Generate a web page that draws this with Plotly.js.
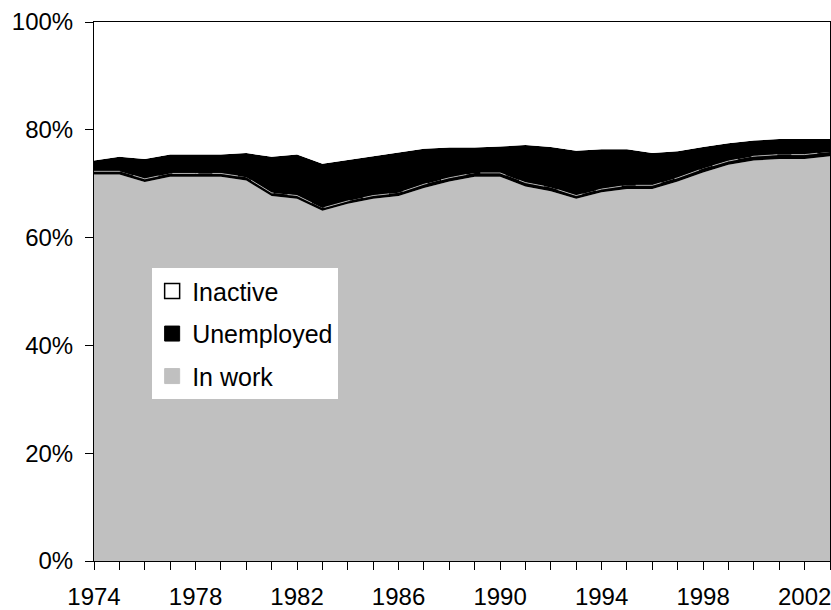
<!DOCTYPE html>
<html>
<head>
<meta charset="utf-8">
<script src="https://cdn.plot.ly/plotly-3.0.1.min.js"></script>
<style>
  html, body { margin: 0; padding: 0; background: #ffffff; }
  #chart { width: 831px; height: 610px; }
</style>
</head>
<body>
<div id="chart"></div>
<script>
// Years (x categories)
const years = [1974,1975,1976,1977,1978,1979,1980,1981,1982,1983,1984,1985,1986,1987,1988,
               1989,1990,1991,1992,1993,1994,1995,1996,1997,1998,1999,2000,2001,2002,2003];

// Share in work (%)
const inWork = [71.7,71.7,70.3,71.3,71.3,71.3,70.6,67.7,67.2,65.0,66.3,67.2,67.7,69.2,70.4,
                71.3,71.3,69.5,68.6,67.2,68.4,69.0,69.0,70.4,72.1,73.5,74.3,74.6,74.6,75.1];

// Thin band between "in work" and "unemployed" (edged by the white dashed line) (%)
const band = [0.6,0.6,0.6,0.6,0.6,0.6,0.6,0.6,0.6,0.5,0.5,0.6,0.6,0.7,0.7,
              0.7,0.7,0.7,0.7,0.6,0.6,0.7,0.7,0.7,0.7,0.7,0.8,0.8,0.8,0.8];

// Share unemployed (%)
const unemployed = [2.0,2.7,3.7,3.5,3.5,3.5,4.5,6.7,7.6,8.2,7.6,7.3,7.5,6.6,5.6,
                    4.7,4.9,7.0,7.5,8.3,7.4,6.7,6.0,4.9,4.0,3.3,2.9,2.9,2.9,2.4];

// Share inactive (%)
const inactive = [25.7,25.0,25.4,24.6,24.6,24.6,24.3,25.0,24.6,26.3,25.6,24.9,24.2,23.5,23.3,
                  23.3,23.1,22.8,23.2,23.9,23.6,23.6,24.3,24.0,23.2,22.5,22.0,21.7,21.7,21.7];

// Legend labels
const legendNames = ['Inactive', 'Unemployed', 'In work'];

const GRAY = '#c0c0c0';

const traces = [
  { x: years, y: inWork, type: 'scatter', mode: 'lines', stackgroup: 'one',
    fillcolor: GRAY, line: { width: 0, color: GRAY }, showlegend: false, hoverinfo: 'skip' },
  { x: years, y: band, type: 'scatter', mode: 'lines', stackgroup: 'one',
    fillcolor: '#000000', line: { width: 0.7, color: '#dddddd', dash: '26px,14px' },
    showlegend: false, hoverinfo: 'skip' },
  { x: years, y: unemployed, type: 'scatter', mode: 'lines', stackgroup: 'one',
    fillcolor: '#000000', line: { width: 0, color: '#000000' }, showlegend: false, hoverinfo: 'skip' },
  { x: years, y: inactive, type: 'scatter', mode: 'lines', stackgroup: 'one',
    fillcolor: '#ffffff', line: { width: 0, color: '#ffffff' }, showlegend: false, hoverinfo: 'skip' },
  // legend-only entries
  { x: [null], y: [null], type: 'scatter', mode: 'markers', name: legendNames[0], legendgroup: 'a',
    marker: { symbol: 'square', size: 15, color: '#ffffff', line: { color: '#000000', width: 1.5 } } },
  { x: [null], y: [null], type: 'scatter', mode: 'markers', name: legendNames[1], legendgroup: 'b',
    marker: { symbol: 'square', size: 15, color: '#000000', line: { color: '#000000', width: 1 } } },
  { x: [null], y: [null], type: 'scatter', mode: 'markers', name: legendNames[2], legendgroup: 'c',
    marker: { symbol: 'square', size: 15, color: GRAY, line: { color: GRAY, width: 1 } } }
];

const FONT = 'Liberation Sans, Arial, sans-serif';

const layout = {
  width: 831, height: 610,
  margin: { l: 94, r: 1, t: 22, b: 49 },
  paper_bgcolor: '#ffffff',
  plot_bgcolor: '#ffffff',
  font: { family: FONT, size: 24, color: '#000000' },
  showlegend: true,
  legend: {
    x: 0.079, y: 0.543, xanchor: 'left', yanchor: 'top',
    bgcolor: '#ffffff', borderwidth: 0,
    font: { family: FONT, size: 25, color: '#000000' },
    tracegroupgap: 7, traceorder: 'grouped', itemwidth: 30
  },
  xaxis: {
    range: [1974, 2003], tick0: 1974, dtick: 4, tickmode: 'linear',
    ticks: 'outside', ticklen: 8, tickcolor: '#000000', tickwidth: 1,
    minor: { dtick: 1, tick0: 1974, ticks: 'outside', ticklen: 8, tickcolor: '#000000', tickwidth: 1 },
    showline: true, linecolor: '#000000', linewidth: 1, mirror: true,
    showgrid: false, zeroline: false, fixedrange: true,
    ticklabeloverflow: 'allow', ticklabelstandoff: 6,
    tickfont: { family: FONT, size: 24, color: '#000000' }
  },
  yaxis: {
    range: [0, 100], tick0: 0, dtick: 20, tickmode: 'linear', ticksuffix: '%',
    ticks: 'outside', ticklen: 8, tickcolor: '#000000', tickwidth: 1,
    showline: true, linecolor: '#000000', linewidth: 1, mirror: true,
    showgrid: false, zeroline: false, fixedrange: true,
    ticklabelstandoff: 7,
    tickfont: { family: FONT, size: 24, color: '#000000' }
  }
};

Plotly.newPlot('chart', traces, layout, { staticPlot: true, displayModeBar: false });
</script>
</body>
</html>
